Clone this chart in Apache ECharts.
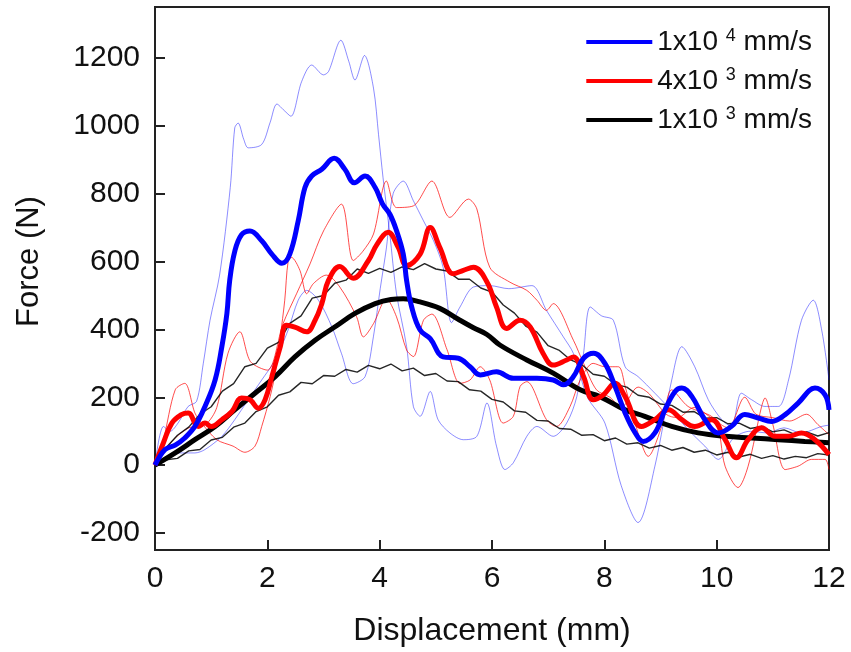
<!DOCTYPE html>
<html>
<head>
<meta charset="utf-8">
<script src="https://cdn.jsdelivr.net/npm/echarts@6/dist/echarts.min.js"></script>
<style>
  html, body { margin: 0; padding: 0; background: #fff; }
  #chart { width: 851px; height: 652px; }
</style>
</head>
<body>
<div id="chart"></div>
<script>
// tick labels
const xTicks = [0, 2, 4, 6, 8, 10, 12]
const yTicks = [-200, 0, 200, 400, 600, 800, 1000, 1200]

// legend names (^n is drawn as superscript)
const names = ['1x10^4 mm/s', '4x10^3 mm/s', '1x10^3 mm/s']

// 1x10^4 mm/s : mean (thick) and two single tests (thin)
const blueMean = [[0,0],[0.18,46],[0.36,59],[0.53,80],[0.71,114],[0.89,173],[1.07,251],[1.19,349],[1.28,447],[1.33,544],[1.42,630],[1.54,679],[1.69,690],[1.9,661],[2.08,622],[2.26,595],[2.4,622],[2.55,720],[2.67,818],[2.79,852],[2.97,872],[3.19,904],[3.38,872],[3.55,832],[3.74,852],[3.92,818],[4.05,770],[4.18,740],[4.3,691],[4.42,622],[4.48,544],[4.57,466],[4.72,398],[4.9,373],[5.13,319],[5.4,315],[5.61,290],[5.79,266],[6.08,275],[6.38,256],[6.8,256],[7.09,251],[7.27,237],[7.45,261],[7.63,315],[7.81,330],[8.01,300],[8.19,232],[8.37,154],[8.55,95],[8.69,70],[8.9,95],[9.08,163],[9.26,217],[9.38,227],[9.56,202],[9.79,134],[10.03,95],[10.26,114],[10.5,149],[10.74,139],[10.98,129],[11.22,149],[11.45,183],[11.75,227],[11.93,207],[12,163]]
const blueTest1 = [[0,0],[0.15,114],[0.27,100],[0.41,124],[0.59,173],[0.74,188],[0.86,300],[0.98,427],[1.15,560],[1.34,818],[1.42,994],[1.48,1008],[1.58,960],[1.66,935],[1.9,945],[2.05,1010],[2.17,1064],[2.3,1045],[2.42,1028],[2.61,1130],[2.79,1179],[3.0,1150],[3.09,1160],[3.31,1252],[3.45,1190],[3.56,1135],[3.73,1207],[3.89,1111],[3.98,974],[4.06,847],[4.18,682],[4.3,505],[4.48,349],[4.6,173],[4.72,144],[4.9,217],[5.04,134],[5.25,95],[5.49,75],[5.73,85],[5.91,183],[6.08,56],[6.23,-13],[6.38,7],[6.62,85],[6.8,114],[7.09,85],[7.33,124],[7.51,202],[7.63,330],[7.75,466],[7.95,440],[8.16,427],[8.37,290],[8.6,261],[8.9,212],[9.2,160],[9.49,105],[9.79,56],[10.03,17],[10.3,80],[10.6,100],[10.9,95],[11.2,110],[11.5,95],[11.87,114],[12,118]]
const blueTest2 = [[0,0],[0.36,36],[0.71,36],[0.89,46],[1.19,85],[1.42,134],[1.66,193],[1.9,251],[2.14,310],[2.37,398],[2.55,486],[2.7,515],[2.91,486],[3.15,407],[3.32,329],[3.53,240],[3.74,261],[3.89,380],[4.01,520],[4.12,640],[4.24,800],[4.42,837],[4.6,779],[4.78,720],[4.96,661],[5.13,583],[5.28,420],[5.43,466],[5.67,525],[5.96,529],[6.3,520],[6.71,529],[6.97,456],[7.27,378],[7.45,329],[7.7,200],[8.01,124],[8.3,-60],[8.6,-169],[8.9,-3],[9.2,251],[9.38,349],[9.61,290],[9.85,193],[10.09,134],[10.26,114],[10.44,212],[10.62,193],[10.86,173],[11.1,173],[11.28,251],[11.51,427],[11.72,486],[11.87,398],[12,251]]

// 4x10^3 mm/s
const redMean = [[0,0],[0.15,66],[0.3,124],[0.47,149],[0.59,154],[0.77,114],[0.89,124],[1.0,114],[1.19,134],[1.37,158],[1.54,198],[1.69,193],[1.84,168],[1.96,193],[2.08,261],[2.23,349],[2.34,412],[2.49,407],[2.7,393],[2.85,427],[2.97,476],[3.09,545],[3.29,585],[3.53,551],[3.8,603],[3.95,650],[4.15,686],[4.33,642],[4.48,588],[4.72,622],[4.9,700],[5.07,642],[5.31,564],[5.49,574],[5.67,583],[5.91,540],[6.08,466],[6.26,403],[6.5,427],[6.68,407],[6.91,329],[7.09,295],[7.33,310],[7.45,319],[7.63,261],[7.8,193],[7.98,207],[8.19,241],[8.37,202],[8.66,114],[8.9,134],[9.14,163],[9.38,134],[9.61,114],[9.91,134],[10.15,75],[10.35,22],[10.56,75],[10.8,110],[11.04,85],[11.28,85],[11.51,95],[11.75,75],[12,31]]
const redTest1 = [[0,0],[0.15,75],[0.36,222],[0.53,241],[0.71,154],[0.83,124],[1.1,75],[1.39,56],[1.6,38],[1.78,56],[1.9,114],[2.05,202],[2.14,271],[2.23,378],[2.31,486],[2.37,600],[2.43,612],[2.58,574],[2.7,505],[2.82,535],[3.05,560],[3.29,525],[3.59,437],[3.71,378],[3.89,417],[4.12,490],[4.3,437],[4.48,339],[4.6,320],[4.78,427],[4.93,445],[5.2,340],[5.43,241],[5.61,251],[5.79,290],[5.96,251],[6.2,124],[6.38,144],[6.5,232],[6.62,246],[6.97,134],[7.15,114],[7.39,173],[7.57,251],[7.8,300],[8.01,290],[8.25,290],[8.37,232],[8.6,95],[8.78,26],[9.02,114],[9.2,222],[9.49,173],[9.97,134],[10.15,-3],[10.38,-66],[10.56,-3],[10.8,173],[10.86,198],[11.0,120],[11.22,-13],[11.45,-3],[11.69,17],[11.93,17],[12,-13]]
const redTest2 = [[0,0],[0.3,70],[0.6,110],[0.9,120],[1.1,170],[1.3,330],[1.51,393],[1.7,305],[2.0,280],[2.28,417],[2.52,505],[2.76,593],[3.0,690],[3.32,769],[3.53,603],[3.7,630],[3.89,681],[4.12,837],[4.3,759],[4.6,764],[4.93,837],[5.25,730],[5.58,784],[5.73,755],[5.96,583],[6.32,539],[6.62,515],[6.8,486],[6.97,456],[7.09,476],[7.45,368],[7.63,300],[7.86,222],[8.1,200],[8.3,170],[8.6,230],[8.8,210],[9.1,150],[9.3,140],[9.6,170],[9.9,140],[10.2,110],[10.5,200],[10.7,150],[11.0,140],[11.3,130],[11.6,150],[11.8,120],[12,90]]

// 1x10^3 mm/s
const blackMean = [[0,0],[0.36,36],[0.71,75],[1.07,114],[1.42,163],[1.78,212],[2.14,261],[2.49,319],[2.85,368],[3.2,407],[3.56,447],[3.92,476],[4.2,488],[4.42,490],[4.72,481],[5.07,462],[5.4,430],[5.67,405],[5.91,385],[6.14,354],[6.62,310],[7.09,271],[7.57,222],[7.92,202],[8.37,163],[8.72,144],[9.2,114],[9.67,95],[10.15,85],[10.62,80],[11.1,75],[11.57,70],[12,66]]
const blackTest1 = [[0,0],[0.2,52],[0.4,88],[0.6,112],[0.8,150],[1.0,172],[1.2,218],[1.4,240],[1.6,290],[1.8,300],[2.0,345],[2.2,362],[2.4,418],[2.6,440],[2.8,492],[3.0,500],[3.2,536],[3.4,545],[3.6,578],[3.8,565],[4.0,580],[4.2,568],[4.4,584],[4.6,576],[4.8,594],[5.0,578],[5.2,572],[5.4,548],[5.6,548],[5.8,522],[6.0,510],[6.2,472],[6.4,448],[6.6,410],[6.8,392],[7.0,352],[7.2,338],[7.4,310],[7.6,296],[7.8,268],[8.0,262],[8.2,238],[8.4,230],[8.6,206],[8.8,200],[9.0,180],[9.2,176],[9.4,156],[9.6,158],[9.8,138],[10.0,140],[10.2,122],[10.4,124],[10.6,108],[10.8,114],[11.0,98],[11.2,104],[11.4,90],[11.6,98],[11.8,86],[12.0,96]]
const blackTest2 = [[0,0],[0.2,16],[0.4,20],[0.6,42],[0.8,46],[1.0,74],[1.2,82],[1.4,112],[1.6,124],[1.8,158],[2.0,172],[2.2,206],[2.4,216],[2.6,244],[2.8,240],[3.0,264],[3.2,262],[3.4,282],[3.6,274],[3.8,294],[4.0,284],[4.2,298],[4.4,278],[4.6,286],[4.8,264],[5.0,270],[5.2,248],[5.4,246],[5.6,222],[5.8,218],[6.0,194],[6.2,186],[6.4,160],[6.6,156],[6.8,132],[7.0,130],[7.2,108],[7.4,106],[7.6,88],[7.8,90],[8.0,72],[8.2,80],[8.4,62],[8.6,66],[8.8,50],[9.0,58],[9.2,44],[9.4,52],[9.6,38],[9.8,44],[10.0,30],[10.2,38],[10.4,24],[10.6,32],[10.8,20],[11.0,28],[11.2,18],[11.4,26],[11.6,22],[11.8,34],[12.0,30]]

const FONT = 'Liberation Sans, Arial, sans-serif'

function thin(data, color, opacity, width, smooth) {
    return {
        type: 'line', data: data, showSymbol: false, smooth: smooth,
        lineStyle: { color: color, width: width, opacity: opacity },
        silent: true, z: 2
    }
}
function thick(name, data, color) {
    return {
        name: name, type: 'line', data: data, showSymbol: false, smooth: 0.4,
        itemStyle: { color: color },
        lineStyle: { color: color, width: 5 },
        z: 3
    }
}

const chart = echarts.init(document.getElementById('chart'))
chart.setOption({
    animation: false,
    backgroundColor: '#fff',
    grid: { left: 155, right: 22, top: 7, bottom: 102, show: true, borderColor: '#222', borderWidth: 2, backgroundColor: 'transparent' },
    legend: {
        data: names,
        orient: 'vertical',
        right: 39, top: 27, padding: 0,
        icon: 'rect', itemWidth: 66, itemHeight: 4, itemGap: 9,
        formatter: n => n.replace(/\^(\d)/, ' {sup|$1}'),
        textStyle: {
            fontFamily: FONT, fontSize: 28, color: '#111', lineHeight: 30,
            rich: { sup: { fontFamily: FONT, fontSize: 18, lineHeight: 30, verticalAlign: 'top', padding: [0, 0, 12, 0] } }
        }
    },
    xAxis: {
        type: 'value', min: 0, max: 12, interval: 2,
        name: 'Displacement (mm)', nameLocation: 'middle', nameGap: 65,
        nameTextStyle: { fontFamily: FONT, fontSize: 32, color: '#111' },
        axisLine: { show: true, onZero: false, lineStyle: { color: '#222', width: 2 } },
        axisTick: { show: true, inside: true, length: 10, lineStyle: { color: '#222', width: 2 } },
        axisLabel: { fontFamily: FONT, fontSize: 30, color: '#111', margin: 14, formatter: v => xTicks.includes(v) ? String(v) : '' },
        splitLine: { show: false }
    },
    yAxis: {
        type: 'value', min: -250, max: 1350,
        name: 'Force (N)', nameLocation: 'middle', nameGap: 110,
        nameTextStyle: { fontFamily: FONT, fontSize: 31, color: '#111', padding: [0, 0, 0, 34] },
        axisLine: { show: true, onZero: false, lineStyle: { color: '#222', width: 2 } },
        axisTick: { show: true, inside: true, length: 10, customValues: yTicks, lineStyle: { color: '#222', width: 2 } },
        axisLabel: { fontFamily: FONT, fontSize: 30, color: '#111', margin: 15, customValues: yTicks, formatter: v => String(v) },
        splitLine: { show: false }
    },
    series: [
        thin(blueTest1, '#0000ff', 0.45, 1, 0.3),
        thin(blueTest2, '#0000ff', 0.45, 1, 0.3),
        thin(redTest1, '#ff0000', 0.7, 1, 0.3),
        thin(redTest2, '#ff0000', 0.7, 1, 0.3),
        thin(blackTest1, '#000000', 0.85, 1.4, false),
        thin(blackTest2, '#000000', 0.85, 1.4, false),
        thick(names[2], blackMean, '#000000'),
        thick(names[1], redMean, '#ff0000'),
        thick(names[0], blueMean, '#0000ff')
    ]
})
</script>
</body>
</html>
